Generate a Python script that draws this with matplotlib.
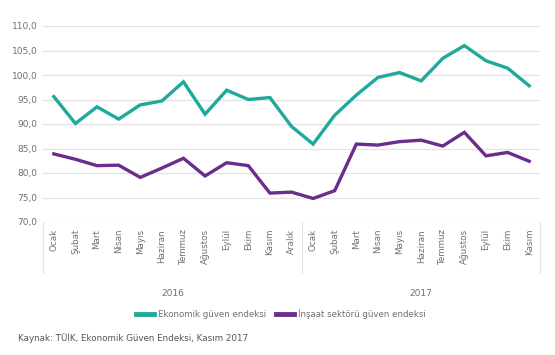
import matplotlib
matplotlib.use("Agg")
import matplotlib.pyplot as plt
import matplotlib.transforms as mtransforms

months = ["Ocak", "Şubat", "Mart", "Nisan", "Mayıs", "Haziran", "Temmuz",
          "Ağustos", "Eylül", "Ekim", "Kasım", "Aralık",
          "Ocak", "Şubat", "Mart", "Nisan", "Mayıs", "Haziran", "Temmuz",
          "Ağustos", "Eylül", "Ekim", "Kasım"]
years = ["2016", "2017"]
ekonomik = [95.6, 90.1, 93.5, 91.0, 93.9, 94.7, 98.6, 92.0, 96.9, 95.0, 95.4, 89.5,
            85.9, 91.8, 95.9, 99.5, 100.5, 98.8, 103.4, 106.0, 102.9, 101.4, 97.8]
insaat = [83.9, 82.8, 81.5, 81.6, 79.1, 81.0, 83.0, 79.4, 82.1, 81.5, 75.9, 76.1,
          74.8, 76.4, 85.9, 85.7, 86.4, 86.7, 85.5, 88.3, 83.5, 84.2, 82.4]
yticks = [70, 75, 80, 85, 90, 95, 100, 105, 110]

TEAL = "#1fa99a"
PURPLE = "#6b2c8c"
GRAY = "#707070"

fig = plt.figure(figsize=(5.55, 3.55), dpi=100)
ax = fig.add_axes([43/555, 1-222/355, (540-43)/555, (222-26)/355])

x = list(range(len(months)))
ax.plot(x, ekonomik, color=TEAL, lw=2.4, solid_joinstyle="miter",
        label="Ekonomik güven endeksi", zorder=3)
ax.plot(x, insaat, color=PURPLE, lw=2.4, solid_joinstyle="miter",
        label="İnşaat sektörü güven endeksi", zorder=3)

ax.set_xlim(-0.5, len(months) - 0.5)
ax.set_ylim(70, 110)
ax.set_yticks(yticks)
ax.set_yticklabels([f"{v:.1f}".replace(".", ",") for v in yticks],
                   fontsize=6.5, color=GRAY)
ax.yaxis.grid(True, color="#e3e3e3", lw=0.9)
ax.set_axisbelow(True)
for s in ax.spines.values():
    s.set_visible(False)
ax.tick_params(axis="both", length=0)
ax.tick_params(axis="y", pad=4)

ax.set_xticks(x)
ax.set_xticklabels(months, rotation=90, fontsize=6.3, color=GRAY, va="top")
ax.tick_params(axis="x", pad=5)

trans = mtransforms.blended_transform_factory(ax.transData, ax.transAxes)
for xv in [-0.5, 11.5, len(months) - 0.5]:
    ax.plot([xv, xv], [0, -0.26], transform=trans, color="#e3e3e3",
            lw=0.9, clip_on=False)

ax.text(5.5, -0.365, years[0], transform=trans, ha="center", va="center",
        fontsize=6.5, color=GRAY)
ax.text(17.0, -0.365, years[1], transform=trans, ha="center", va="center",
        fontsize=6.5, color=GRAY)

fig.legend(loc="center", bbox_to_anchor=(281/555, 1-314/355), ncol=2,
           frameon=False, fontsize=6.2, handlelength=2.0, handletextpad=0.5,
           columnspacing=1.2, labelcolor=GRAY)
for lh in fig.legends[0].get_lines():
    lh.set_linewidth(3.5)

fig.text(18/555, 1-338/355, "Kaynak: TÜİK, Ekonomik Güven Endeksi, Kasım 2017",
         fontsize=6.3, color="#555555", va="center", ha="left")

fig.savefig("out.png", dpi=100)
